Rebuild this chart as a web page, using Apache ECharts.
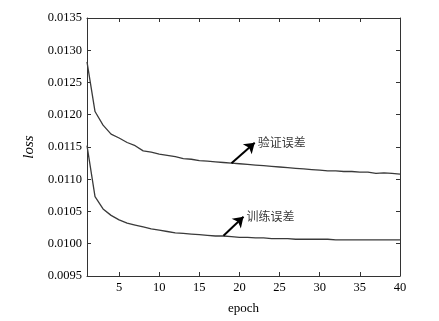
<!DOCTYPE html>
<html>
<head>
<meta charset="utf-8">
<script src="https://cdn.jsdelivr.net/npm/echarts@6/dist/echarts.min.js"></script>
<style>
  html, body { margin: 0; padding: 0; background: #fff; }
  #chart { width: 439px; height: 321px; }
</style>
</head>
<body>
<div id="chart"></div>
<script>
const epochs = [1, 2, 3, 4, 5, 6, 7, 8, 9, 10, 11, 12, 13, 14, 15, 16, 17, 18, 19, 20,
  21, 22, 23, 24, 25, 26, 27, 28, 29, 30, 31, 32, 33, 34, 35, 36, 37, 38, 39, 40];

const valLoss = [0.01282, 0.01205, 0.01184, 0.01170, 0.01164, 0.01157, 0.01152, 0.01144, 0.01142, 0.01139,
  0.01137, 0.01135, 0.01132, 0.01131, 0.01129, 0.01128, 0.01127, 0.01126, 0.01125, 0.01124,
  0.01123, 0.01122, 0.01121, 0.01120, 0.01119, 0.01118, 0.01117, 0.01116, 0.01115, 0.01114,
  0.01113, 0.01113, 0.01112, 0.01112, 0.01111, 0.01111, 0.01109, 0.01110, 0.01109, 0.01108];

const trainLoss = [0.01152, 0.01073, 0.01054, 0.01044, 0.01037, 0.01032, 0.01029, 0.01026, 0.01023, 0.01021,
  0.01019, 0.01017, 0.01016, 0.01015, 0.01014, 0.01013, 0.01012, 0.01012, 0.01011, 0.01010,
  0.01010, 0.01009, 0.01009, 0.01008, 0.01008, 0.01008, 0.01007, 0.01007, 0.01007, 0.01007,
  0.01007, 0.01006, 0.01006, 0.01006, 0.01006, 0.01006, 0.01006, 0.01006, 0.01006, 0.01006];

const xTicks = [5, 10, 15, 20, 25, 30, 35, 40];

// annotations: [tail, head] in data coords, plus label text
const annoLabels = ["验证误差", "训练误差"];
const annoTails = [[19.0, 0.011247], [18.0, 0.010125]];
const annoHeads = [[21.9, 0.011567], [20.5, 0.010420]];

const chart = echarts.init(document.getElementById("chart"));
const ink = "#333";
const serif = "'Liberation Serif', 'DejaVu Serif', serif";

const tickStyle = { inside: true, length: 4, lineStyle: { color: ink } };

const option = {
  animation: false,
  grid: { left: 87, right: 39, top: 18, bottom: 45 },
  xAxis: [
    {
      type: "value",
      min: 1,
      max: 40,
      name: "epoch",
      nameLocation: "middle",
      nameGap: 26,
      nameTextStyle: { color: "#000", fontFamily: serif, fontSize: 13 },
      axisLine: { lineStyle: { color: ink } },
      axisTick: { ...tickStyle, customValues: xTicks },
      axisLabel: { customValues: xTicks, color: "#000", fontFamily: serif, fontSize: 12.5, margin: 5 },
      splitLine: { show: false },
    },
    {
      type: "value",
      position: "top",
      min: 1,
      max: 40,
      axisLine: { lineStyle: { color: ink } },
      axisTick: { ...tickStyle, customValues: xTicks },
      axisLabel: { show: false },
      splitLine: { show: false },
    },
  ],
  yAxis: [
    {
      type: "value",
      min: 0.0095,
      max: 0.0135,
      interval: 0.0005,
      name: "loss",
      nameLocation: "middle",
      nameGap: 48,
      nameTextStyle: { color: "#000", fontFamily: serif, fontSize: 15, fontStyle: "italic" },
      axisLine: { show: true, lineStyle: { color: ink } },
      axisTick: { show: true, ...tickStyle },
      axisLabel: {
        color: "#000",
        fontFamily: serif,
        fontSize: 12.5,
        margin: 5,
        formatter: (v) => v.toFixed(4),
      },
      splitLine: { show: false },
    },
    {
      type: "value",
      position: "right",
      min: 0.0095,
      max: 0.0135,
      interval: 0.0005,
      axisLine: { show: true, lineStyle: { color: ink } },
      axisTick: { show: true, ...tickStyle },
      axisLabel: { show: false },
      splitLine: { show: false },
    },
  ],
  series: [
    {
      name: "验证误差",
      type: "line",
      data: epochs.map((e, i) => [e, valLoss[i]]),
      showSymbol: false,
      lineStyle: { color: "#3a3a3a", width: 1.3 },
    },
    {
      name: "训练误差",
      type: "line",
      data: epochs.map((e, i) => [e, trainLoss[i]]),
      showSymbol: false,
      lineStyle: { color: "#3a3a3a", width: 1.3 },
    },
    {
      type: "lines",
      coordinateSystem: "cartesian2d",
      silent: true,
      symbol: ["none", "arrow"],
      symbolSize: 10,
      lineStyle: { color: "#000", width: 2, opacity: 1 },
      data: annoTails.map((t, i) => ({ coords: [t, annoHeads[i]] })),
      z: 5,
    },
    {
      type: "scatter",
      symbolSize: 0,
      silent: true,
      data: annoHeads.map((h, i) => ({ value: h, name: annoLabels[i] })),
      label: {
        show: true,
        position: "right",
        distance: 3,
        formatter: (p) => p.name,
        color: "#000",
        fontFamily: "'Noto Sans CJK SC', sans-serif",
        fontSize: 12,
      },
    },
  ],
};

chart.setOption(option);
</script>
</body>
</html>
